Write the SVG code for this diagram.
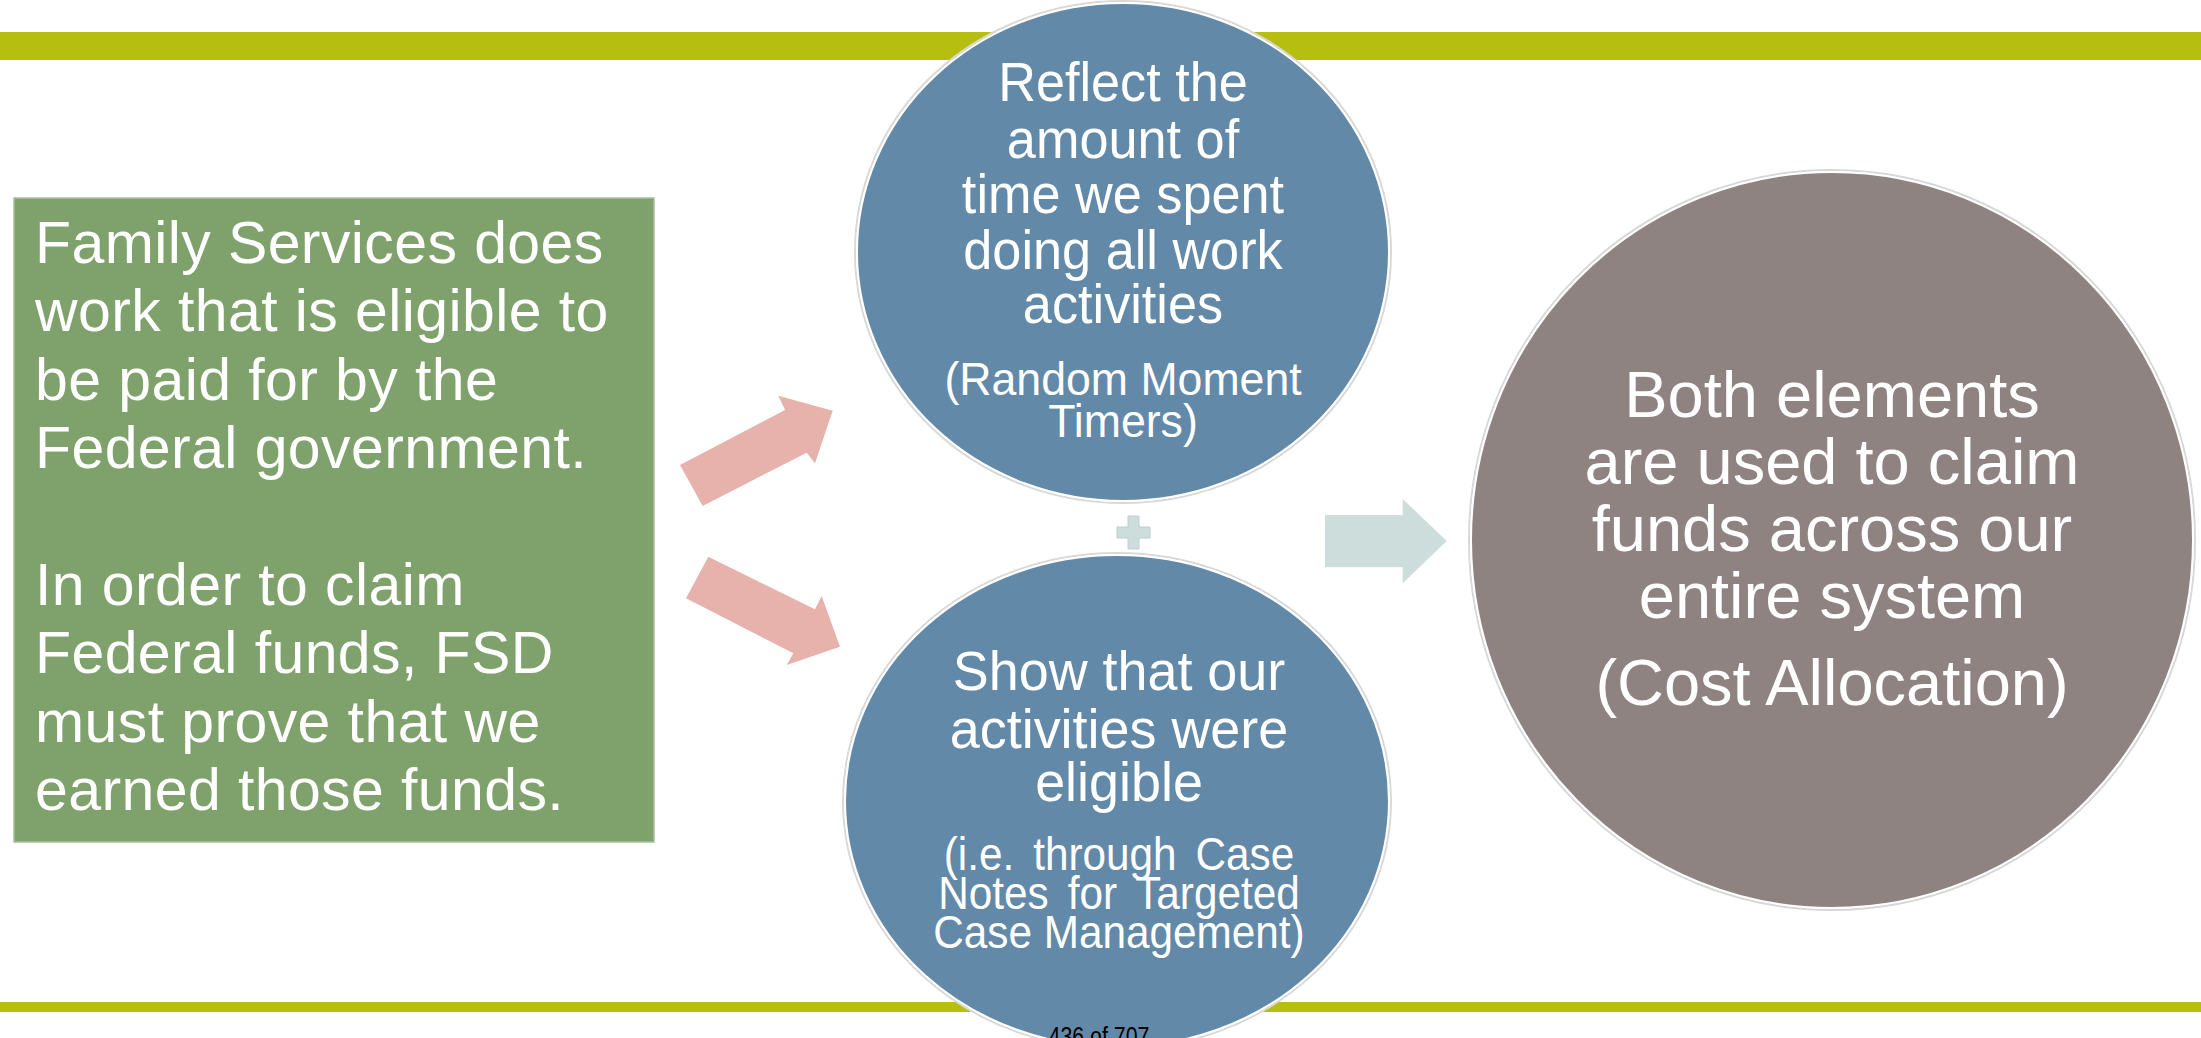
<svg xmlns="http://www.w3.org/2000/svg" width="2201" height="1038" viewBox="0 0 2201 1038">
<style>
.t{font-family:"Liberation Sans",Arial,sans-serif;fill:#ffffff}
.box{font-size:59px;letter-spacing:0.4px}
.main{font-size:55px;text-anchor:middle}
.sub{font-size:47px;text-anchor:middle}
.big{font-size:65px;text-anchor:middle}
.bar{fill:#B6BF0F}
.pink{fill:#E8B2AC}
.teal{fill:#CDDDDC}
.edge{fill:none;stroke:#D8D8D8;stroke-width:2}
</style>
<rect width="2201" height="1038" fill="#ffffff"/>
<g id="bars">
<rect class="bar" x="0" y="32" width="2201" height="28"/>
<rect class="bar" x="0" y="1002" width="2201" height="10"/>
</g>
<g id="connectors">
<polygon class="pink" points="680,465 785,410 778.3,395.7 832.7,410.7 815,463.3 806.7,452.7 702.7,506"/>
<polygon class="pink" points="708.3,556.7 815,609.3 821.7,596 840,646.7 786.7,665 793.3,653.3 686,598.3"/>
<polygon class="teal" points="1325,515 1402.7,515 1402.7,499 1446.7,541 1402.7,583.3 1402.7,567.3 1325,567.3"/>
<path class="teal" d="M1128,516 h11 v11 h11 v11 h-11 v11 h-11 v-11 h-11 v-11 h11 z" stroke="#BFCFCE" stroke-width="1"/>
</g>
<g id="node-family">
<rect x="14" y="198" width="640" height="644" fill="#7FA16C" stroke="#A9BF9C" stroke-width="1.5"/>
<text class="t box" x="35" y="263">Family Services does</text>
<text class="t box" x="35" y="331">work that is eligible to</text>
<text class="t box" x="35" y="400">be paid for by the</text>
<text class="t box" x="35" y="468">Federal government.</text>
<text class="t box" x="35" y="605">In order to claim</text>
<text class="t box" x="35" y="673">Federal funds, FSD</text>
<text class="t box" x="35" y="742">must prove that we</text>
<text class="t box" x="35" y="810">earned those funds.</text>
</g>
<g id="node-reflect">
<ellipse class="edge" cx="1123" cy="252" rx="268" ry="251"/>
<ellipse cx="1123" cy="252" rx="266" ry="249" fill="#6389A9" stroke="#ffffff" stroke-width="2"/>
<g transform="translate(1123 0) scale(0.95 1)">
<text class="t main" x="0" y="101">Reflect the</text>
<text class="t main" x="0" y="158">amount of</text>
<text class="t main" x="0" y="213">time we spent</text>
<text class="t main" x="0" y="269">doing all work</text>
<text class="t main" x="0" y="323">activities</text>
<text class="t sub" x="0" y="395">(Random Moment</text>
<text class="t sub" x="0" y="437">Timers)</text>
</g>
</g>
<g id="node-show">
<ellipse class="edge" cx="1117" cy="801" rx="274" ry="248"/>
<ellipse cx="1117" cy="801" rx="272" ry="246" fill="#6389A9" stroke="#ffffff" stroke-width="2"/>
<g transform="translate(1119 0) scale(0.98 1)">
<text class="t main" x="0" y="690">Show that our</text>
<text class="t main" x="0" y="748">activities were</text>
<text class="t main" x="0" y="801">eligible</text>
</g>
<g transform="translate(1119 0) scale(0.9 1)">
<text class="t sub" x="0" y="870" word-spacing="8">(i.e. through Case</text>
<text class="t sub" x="0" y="909" word-spacing="8">Notes for Targeted</text>
<text class="t sub" x="0" y="948">Case Management)</text>
</g>
</g>
<g id="node-both">
<ellipse class="edge" cx="1832" cy="540" rx="363" ry="370"/>
<ellipse cx="1832" cy="540" rx="361" ry="368" fill="#8F8382" stroke="#ffffff" stroke-width="2"/>
<text class="t big" x="1832" y="417">Both elements</text>
<text class="t big" x="1832" y="484">are used to claim</text>
<text class="t big" x="1832" y="551">funds across our</text>
<text class="t big" x="1832" y="618">entire system</text>
<text class="t big" x="1832" y="705" font-size="61">(Cost Allocation)</text>
</g>
<text x="1099" y="1046" font-family="'Liberation Sans',Arial,sans-serif" font-size="28" text-anchor="middle" textLength="101" lengthAdjust="spacingAndGlyphs" fill="#000000">436 of 707</text>
</svg>
